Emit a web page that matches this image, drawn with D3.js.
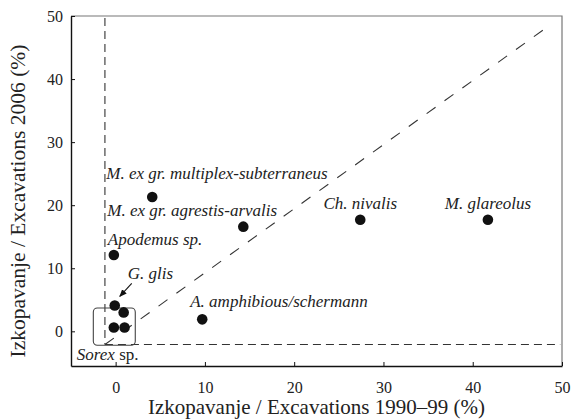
<!DOCTYPE html>
<html>
<head>
<meta charset="utf-8">
<script src="https://cdn.jsdelivr.net/npm/d3@7"></script>
<style>
  html, body { margin: 0; padding: 0; background: #fff; }
</style>
</head>
<body>
<svg id="chart" width="571" height="420"></svg>
<script>
// Share of each small-mammal taxon in two excavation campaigns (%)
const taxa = [
  "M. ex gr. multiplex-subterraneus",
  "M. ex gr. agrestis-arvalis",
  "Apodemus sp.",
  "G. glis",
  "",
  "",
  "",
  "A. amphibious/schermann",
  "Ch. nivalis",
  "M. glareolus"
];
const share1990 = [4.1, 14.3, -0.2, -0.1, 0.9, -0.2, 1.0, 9.7, 27.4, 41.7];
const share2006 = [21.3, 16.6, 12.1, 4.1, 3.0, 0.6, 0.6, 1.9, 17.7, 17.7];

const xTicks = [0, 10, 20, 30, 40, 50];
const yTicks = [0, 10, 20, 30, 40, 50];

// Reference lines: origin of the dashed guides and the end of the diagonal
const guideOrigin = [-1.2, -2.1];
const diagonalEnd = [48.5, 48.4];
// Group box around the Sorex sp. points
const sorexBox = { x0: -2.5, x1: 2.2, y0: -2.2, y1: 3.7 };

const FONT = "'Liberation Serif', 'Times New Roman', serif";

const svg = d3.select("#chart");
const margin = { left: 71, top: 16, right: 9, bottom: 54 };
const W = 571, H = 420;

const x = d3.scaleLinear().domain([-5, 50]).range([margin.left, W - margin.right]);
const y = d3.scaleLinear().domain([-5.5, 50]).range([H - margin.bottom, margin.top]);

const points = taxa.map((t, i) => ({ name: t, x: share1990[i], y: share2006[i] }));

// frame: top and right edges
svg.append("path")
  .attr("d", `M${x(-5)},${y(50)}H${x(50)}V${y(-5.5)}`)
  .attr("fill", "none").attr("stroke", "#777").attr("stroke-width", 1.2);

// axes with inward ticks
const xAxis = svg.append("g")
  .attr("transform", `translate(0,${y(-5.5)})`)
  .call(d3.axisBottom(x).tickValues(xTicks).tickSizeInner(-4).tickSizeOuter(0).tickPadding(16));
const yAxis = svg.append("g")
  .attr("transform", `translate(${x(-5)},0)`)
  .call(d3.axisLeft(y).tickValues(yTicks).tickSizeInner(-4).tickSizeOuter(0).tickPadding(8));

[xAxis, yAxis].forEach(g => {
  g.select(".domain").attr("stroke", "#111").attr("stroke-width", 1.4);
  g.selectAll(".tick line").attr("stroke", "#111").attr("stroke-width", 1);
  g.selectAll(".tick text")
    .style("font-family", FONT).style("font-size", "16px").attr("fill", "#222");
});

// dashed guides
const guides = svg.append("g").attr("fill", "none").attr("stroke", "#333").attr("stroke-width", 1.1);
guides.append("line")
  .attr("x1", x(guideOrigin[0])).attr("x2", x(guideOrigin[0]))
  .attr("y1", y(50) + 2).attr("y2", y(guideOrigin[1]))
  .attr("stroke-dasharray", "8,5");
guides.append("line")
  .attr("x1", x(guideOrigin[0])).attr("x2", x(49.8))
  .attr("y1", y(guideOrigin[1])).attr("y2", y(guideOrigin[1]))
  .attr("stroke-dasharray", "8,5");
guides.append("line")
  .attr("x1", x(guideOrigin[0])).attr("y1", y(guideOrigin[1]))
  .attr("x2", x(diagonalEnd[0])).attr("y2", y(diagonalEnd[1]))
  .attr("stroke-dasharray", "11,11");

// group box
svg.append("rect")
  .attr("x", x(sorexBox.x0)).attr("y", y(sorexBox.y1))
  .attr("width", x(sorexBox.x1) - x(sorexBox.x0))
  .attr("height", y(sorexBox.y0) - y(sorexBox.y1))
  .attr("rx", 4).attr("ry", 4)
  .attr("fill", "none").attr("stroke", "#444").attr("stroke-width", 1.1);

// points
svg.append("g").selectAll("circle").data(points).join("circle")
  .attr("cx", d => x(d.x)).attr("cy", d => y(d.y)).attr("r", 5.3)
  .attr("fill", "#111");

// labels: [anchor, dx, dy] relative to the point
const labelPlacement = {
  "M. ex gr. multiplex-subterraneus": ["start", -46, -18],
  "M. ex gr. agrestis-arvalis": ["start", -136, -10.5],
  "Apodemus sp.": ["start", -6, -10],
  "G. glis": ["start", 13, -26],
  "A. amphibious/schermann": ["start", -12, -12],
  "Ch. nivalis": ["middle", 0, -11],
  "M. glareolus": ["middle", 0, -11]
};
const labels = svg.append("g")
  .style("font-family", FONT).style("font-style", "italic")
  .style("font-size", "17px").attr("fill", "#222");
points.filter(d => d.name).forEach(d => {
  const [anchor, dx, dy] = labelPlacement[d.name];
  labels.append("text")
    .attr("x", x(d.x) + dx).attr("y", y(d.y) + dy)
    .attr("text-anchor", anchor)
    .text(d.name);
});

// arrow from the G. glis label to its point
const glis = points[3];
svg.append("defs").append("marker")
  .attr("id", "head").attr("viewBox", "0 0 10 10")
  .attr("refX", 9).attr("refY", 5)
  .attr("markerWidth", 7).attr("markerHeight", 7)
  .attr("orient", "auto")
  .append("path").attr("d", "M0,1L10,5L0,9Z").attr("fill", "#111");
svg.append("line")
  .attr("x1", x(glis.x) + 17).attr("y1", y(glis.y) - 22)
  .attr("x2", x(glis.x) + 5).attr("y2", y(glis.y) - 9)
  .attr("stroke", "#111").attr("stroke-width", 1.1)
  .attr("marker-end", "url(#head)");

// Sorex sp. label under the box
const sorex = svg.append("text")
  .attr("x", x(sorexBox.x0) - 16.5).attr("y", y(sorexBox.y0) + 14.5)
  .style("font-family", FONT).style("font-size", "17px").attr("fill", "#222");
sorex.append("tspan").style("font-style", "italic").text("Sorex");
sorex.append("tspan").text(" sp.");

// axis titles
svg.append("text")
  .attr("x", (x(-5) + x(50)) / 2).attr("y", 414)
  .attr("text-anchor", "middle")
  .style("font-family", FONT).style("font-size", "21px").attr("fill", "#222")
  .text("Izkopavanje / Excavations 1990–99 (%)");
svg.append("text")
  .attr("transform", `translate(25,${(y(50) + y(-5.5)) / 2 + 10}) rotate(-90)`)
  .attr("text-anchor", "middle")
  .style("font-family", FONT).style("font-size", "21.5px").attr("fill", "#222")
  .text("Izkopavanje / Excavations 2006 (%)");
</script>
</body>
</html>
